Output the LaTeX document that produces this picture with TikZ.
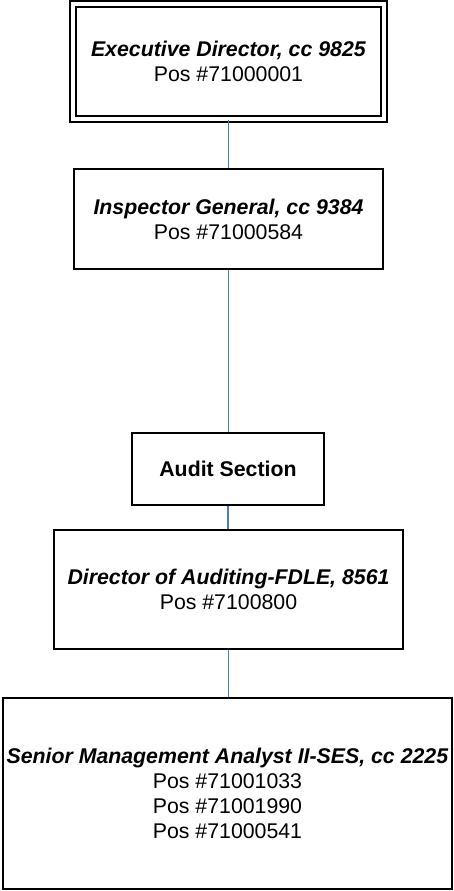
\documentclass[tikz,border=0pt]{standalone}
\usepackage{fontspec}
\setmainfont{Liberation Sans}
\definecolor{linkblue}{HTML}{4A7EBB}
\begin{document}
\begin{tikzpicture}[x=1pt,y=-1pt,
  box/.style={draw=black, line width=1.8pt, fill=white, inner sep=0pt, align=center,
    font=\fontsize{21.3}{25}\selectfont},
  dbox/.style={box, double=white, double distance=4.2pt},
  link/.style={draw=linkblue, line width=1.5pt}]
\useasboundingbox (0,0) rectangle (454,891);
\node[dbox, minimum width=311pt, minimum height=115pt] (ed) at (228.5,61.5)
  {\textbf{\textit{Executive Director, cc 9825}}\\Pos \#71000001};
\node[box, minimum width=309pt, minimum height=100pt] (ig) at (228.5,219)
  {\textbf{\textit{Inspector General, cc 9384}}\\Pos \#71000584};
\node[box, minimum width=192pt, minimum height=72pt] (as) at (228,469)
  {\textbf{Audit Section}};
\node[box, minimum width=349pt, minimum height=119pt] (da) at (228.5,589.5)
  {\textbf{\textit{Director of Auditing-FDLE, 8561}}\\Pos \#7100800};
\node[box, minimum width=449pt, minimum height=191pt] (sm) at (227.5,793.5)
  {\textbf{\textit{Senior Management Analyst II-SES, cc 2225}}\\Pos \#71001033\\Pos \#71001990\\Pos \#71000541};
\draw[link] (ed.south) -- (ed.south |- ig.north);
\draw[link] (ig.south) -- (ig.south |- as.north);
\draw[link] (as.south) -- (as.south |- da.north);
\draw[link] (da.south) -- (da.south |- sm.north);
\end{tikzpicture}
\end{document}
